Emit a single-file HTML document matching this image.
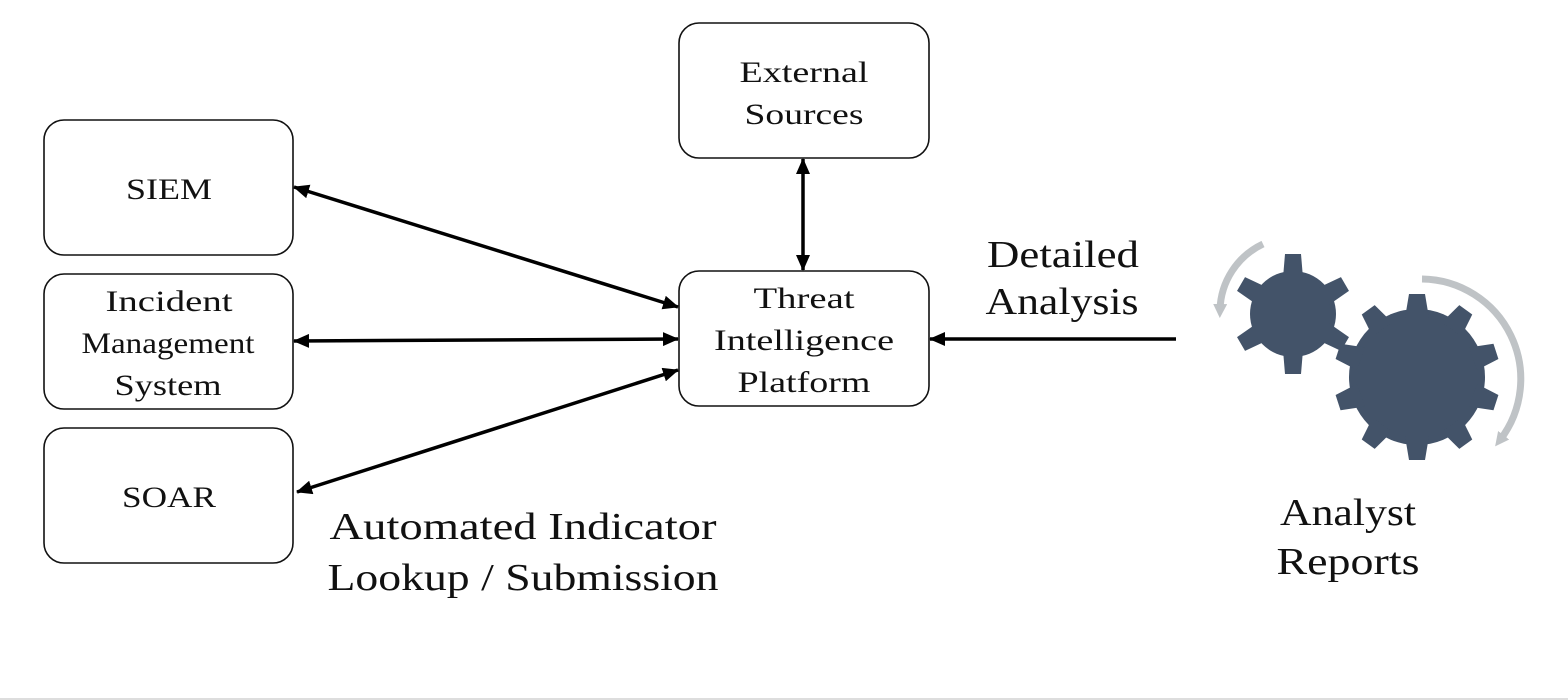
<!DOCTYPE html>
<html><head><style>
body{margin:0;background:#fff;}
svg{display:block;}
text{font-family:"Liberation Serif",serif;fill:#111;}
</style></head><body>
<svg width="1568" height="700" viewBox="0 0 1568 700">
<defs>
<marker id="a" markerWidth="16" markerHeight="14" refX="15" refY="7" orient="auto-start-reverse" markerUnits="userSpaceOnUse"><path d="M0,0 L16,7 L0,14 z" fill="#000"/></marker>
<marker id="g" markerWidth="20" markerHeight="20" refX="6" refY="7" orient="auto" markerUnits="userSpaceOnUse"><path d="M0,0 L14,7 L0,14 z" fill="#bfc3c6"/></marker>
</defs>
<g fill="#fff" stroke="#111" stroke-width="1.6">
<rect x="44" y="120" width="249" height="135" rx="20"/>
<rect x="44" y="274" width="249" height="135" rx="20"/>
<rect x="44" y="428" width="249" height="135" rx="20"/>
<rect x="679" y="23" width="250" height="135" rx="20"/>
<rect x="679" y="271" width="250" height="135" rx="20"/>
</g>
<g font-size="30" text-anchor="middle">
<text x="169" y="199" textLength="86" lengthAdjust="spacingAndGlyphs">SIEM</text>
<text x="169" y="311" textLength="127" lengthAdjust="spacingAndGlyphs">Incident</text>
<text x="168" y="353" textLength="173" lengthAdjust="spacingAndGlyphs">Management</text>
<text x="168" y="395" textLength="107" lengthAdjust="spacingAndGlyphs">System</text>
<text x="169" y="507" textLength="94" lengthAdjust="spacingAndGlyphs">SOAR</text>
<text x="804" y="82" textLength="129" lengthAdjust="spacingAndGlyphs">External</text>
<text x="804" y="124" textLength="119" lengthAdjust="spacingAndGlyphs">Sources</text>
<text x="804" y="308" textLength="101" lengthAdjust="spacingAndGlyphs">Threat</text>
<text x="804" y="350" textLength="180" lengthAdjust="spacingAndGlyphs">Intelligence</text>
<text x="804" y="392" textLength="133" lengthAdjust="spacingAndGlyphs">Platform</text>
</g>
<g font-size="38" text-anchor="middle">
<text x="1063" y="267" textLength="152" lengthAdjust="spacingAndGlyphs">Detailed</text>
<text x="1062" y="314" textLength="153" lengthAdjust="spacingAndGlyphs">Analysis</text>
<text x="523" y="539" textLength="387" lengthAdjust="spacingAndGlyphs">Automated Indicator</text>
<text x="523" y="590" textLength="391" lengthAdjust="spacingAndGlyphs">Lookup / Submission</text>
<text x="1348" y="525" textLength="136" lengthAdjust="spacingAndGlyphs">Analyst</text>
<text x="1348" y="574" textLength="143" lengthAdjust="spacingAndGlyphs">Reports</text>
</g>
<g stroke="#000" stroke-width="3.5" fill="none">
<line x1="294" y1="187" x2="678" y2="307" marker-start="url(#a)" marker-end="url(#a)"/>
<line x1="294" y1="341" x2="678" y2="339" marker-start="url(#a)" marker-end="url(#a)"/>
<line x1="297" y1="492" x2="678" y2="370" marker-start="url(#a)" marker-end="url(#a)"/>
<line x1="803" y1="159" x2="803" y2="270" marker-start="url(#a)" marker-end="url(#a)"/>
<line x1="1176" y1="339" x2="930" y2="339" marker-end="url(#a)"/>
</g>
<g stroke="#bfc3c6" stroke-width="7" fill="none">
<path d="M1263,244 A75,75 0 0 0 1220,310" marker-end="url(#g)"/>
<path d="M1422,279 A100,100 0 0 1 1500,440" marker-end="url(#g)"/>
</g>
<g fill="#435369">
<circle cx="1293" cy="314" r="43"/>
<g id="st"><path d="M1285,254 L1301,254 L1303,278 L1283,278 z"/></g>
<use href="#st" transform="rotate(60 1293 314)"/>
<use href="#st" transform="rotate(120 1293 314)"/>
<use href="#st" transform="rotate(180 1293 314)"/>
<use href="#st" transform="rotate(240 1293 314)"/>
<use href="#st" transform="rotate(300 1293 314)"/>
</g>
<g fill="#435369">
<circle cx="1417" cy="377" r="68"/>
<g id="bt"><path d="M1409,294 L1425,294 L1429,318 L1405,318 z"/></g>
<use href="#bt" transform="rotate(36 1417 377)"/>
<use href="#bt" transform="rotate(72 1417 377)"/>
<use href="#bt" transform="rotate(108 1417 377)"/>
<use href="#bt" transform="rotate(144 1417 377)"/>
<use href="#bt" transform="rotate(180 1417 377)"/>
<use href="#bt" transform="rotate(216 1417 377)"/>
<use href="#bt" transform="rotate(252 1417 377)"/>
<use href="#bt" transform="rotate(288 1417 377)"/>
<use href="#bt" transform="rotate(324 1417 377)"/>
</g>
<line x1="0" y1="699" x2="1568" y2="699" stroke="#ddd" stroke-width="2"/>
</svg>
</body></html>
